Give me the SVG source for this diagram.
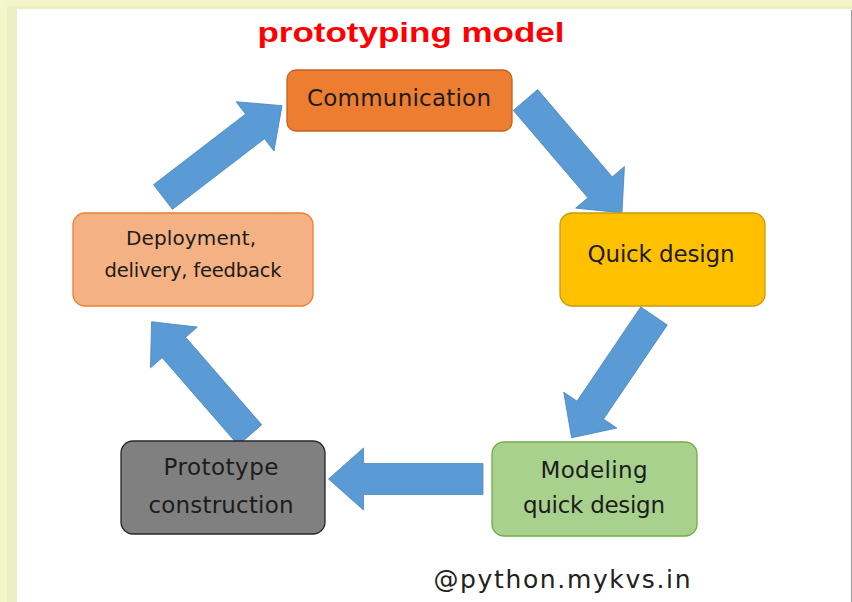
<svg xmlns="http://www.w3.org/2000/svg" width="852" height="602" viewBox="0 0 852 602">
  <style>
    .node { stroke-width: 1.3; }
    .label { font-family: "DejaVu Sans", Verdana, sans-serif; fill: #1c1c1c; text-anchor: middle; }
    .flow { fill: #5b9bd5; stroke: #4a86c0; stroke-width: 0.8; }
  </style>
  <defs>
    <!-- block arrow pointing along +x, tail at origin, tip at (150,0) -->
    <polygon id="blockArrow" points="0,-16 116,-16 116,-32 150,0 116,32 116,16 0,16"/>
  </defs>

  <!-- page background and panel -->
  <rect x="0" y="0" width="852" height="602" fill="#f3f6c9"/>
  <rect x="7" y="6" width="845" height="596" fill="#eceec3"/>
  <rect x="17" y="9" width="835" height="593" fill="#ffffff"/>
  <line x1="851.5" y1="10" x2="851.5" y2="602" stroke="#9a9a9a" stroke-width="1"/>

  <text x="411" y="42" font-family="'Liberation Sans', Arial, sans-serif" font-weight="bold" font-size="27" fill="#ff0000" text-anchor="middle" textLength="307" lengthAdjust="spacingAndGlyphs">prototyping model</text>

  <g id="connectors">
    <use href="#blockArrow" class="flow" transform="translate(525.5,100) rotate(49.5) scale(0.99,1)"/>
    <use href="#blockArrow" class="flow" transform="translate(654,316) rotate(124.1) scale(0.98,1)"/>
    <use href="#blockArrow" class="flow" transform="translate(483,479) rotate(180) scale(1.03,0.97)"/>
    <use href="#blockArrow" class="flow" transform="translate(250,435) rotate(229) scale(1.0,0.97)"/>
    <use href="#blockArrow" class="flow" transform="translate(163,197) rotate(-37.5) scale(1.0,0.97)"/>
  </g>

  <g id="communication">
    <rect class="node" x="287" y="70" width="225" height="61" rx="9" fill="#ed7d31" stroke="#c0621f"/>
    <text class="label" x="399" y="106" font-size="23" textLength="184">Communication</text>
  </g>

  <g id="quick-design">
    <rect class="node" x="560" y="213" width="205" height="93" rx="12" fill="#ffc000" stroke="#c89a10"/>
    <text class="label" x="661" y="262" font-size="23" textLength="147">Quick design</text>
  </g>

  <g id="modeling">
    <rect class="node" x="492" y="442" width="205" height="94" rx="12" fill="#a9d18e" stroke="#70ad47"/>
    <text class="label" x="594" y="478" font-size="23" textLength="107">Modeling</text>
    <text class="label" x="594" y="513" font-size="23" textLength="142">quick design</text>
  </g>

  <g id="prototype">
    <rect class="node" x="121" y="441" width="204" height="93" rx="12" fill="#808080" stroke="#262626"/>
    <text class="label" x="221" y="475" font-size="23" textLength="115">Prototype</text>
    <text class="label" x="221" y="513" font-size="23" textLength="145">construction</text>
  </g>

  <g id="deployment">
    <rect class="node" x="73" y="213" width="240" height="93" rx="12" fill="#f4b183" stroke="#ed7d31"/>
    <text class="label" x="191" y="245" font-size="20" textLength="130">Deployment,</text>
    <text class="label" x="193" y="277" font-size="19.5" textLength="177">delivery, feedback</text>
  </g>

  <text x="562" y="588" font-family="'DejaVu Sans', Verdana, sans-serif" font-size="25" fill="#222222" text-anchor="middle" textLength="257">@python.mykvs.in</text>
</svg>
